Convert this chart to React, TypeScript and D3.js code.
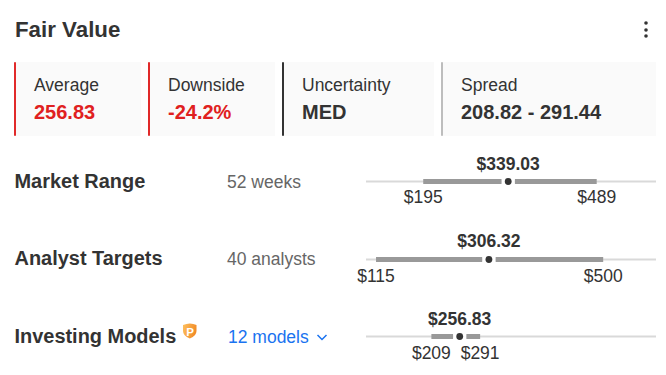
import React from "react";
import * as d3 from "d3";

const cardLabels = ["Average", "Downside", "Uncertainty", "Spread"];
const cardValues = ["256.83", "-24.2%", "MED", "208.82 - 291.44"];
const cardLeft = [14, 148, 282, 441];
const cardRight = [141, 275, 434, 656];
const cardBorder = ["#e12a2a", "#e12a2a", "#333333", "#bdbdbd"];
const cardValueColor = ["#e02020", "#e02020", "#333333", "#333333"];

const rowNames = ["Market Range", "Analyst Targets", "Investing Models"];
const rowNotes = ["52 weeks", "40 analysts", "12 models"];
const rowLow = [195, 115, 208.82];
const rowHigh = [489, 500, 291.44];
const rowMid = [339.03, 306.32, 256.83];
const rowLowLabels = ["$195", "$115", "$209"];
const rowHighLabels = ["$489", "$500", "$291"];
const rowY = [181.5, 259.5, 336.5];
const nameBase = [187.5, 264.5, 342.5];
const noteBase = [188, 265, 343];
const midBase = [170, 247, 325];
const lowBase = [203, 282, 359];

const FONT = "'Liberation Sans', Arial, sans-serif";
const DARK = "#333333";
const BLUE = "#1a73f0";

export default function App() {
  const x = d3.scaleLinear().domain([98, 589.5]).range([366, 656]);
  const gap = 6.5;
  return (
    <svg width={666} height={375} style={{ position: "absolute", left: 0, top: 0, background: "#fff" }} fontFamily={FONT}>
      <defs>
        <linearGradient id="shield" x1="0" y1="0" x2="1" y2="0.3">
          <stop offset="0" stopColor="#fdc05e" />
          <stop offset="1" stopColor="#f28c28" />
        </linearGradient>
      </defs>
      <text x={15} y={37} fontSize={22.3} fontWeight={700} fill={DARK}>Fair Value</text>
      {[23, 30, 36].map((cy) => <circle key={cy} cx={646} cy={cy} r={1.8} fill={DARK} />)}

      {cardLabels.map((label, i) => (
        <g key={label}>
          <rect x={cardLeft[i]} y={62} width={cardRight[i] - cardLeft[i]} height={74} fill="#fafafa" />
          <rect x={cardLeft[i]} y={62} width={2} height={74} rx={1} fill={cardBorder[i]} />
          <text x={cardLeft[i] + 20} y={91} fontSize={17.5} fill={DARK}>{label}</text>
          <text x={cardLeft[i] + 20} y={119} fontSize={20} fontWeight={700} fill={cardValueColor[i]}>{cardValues[i]}</text>
        </g>
      ))}

      {rowNames.map((name, i) => {
        const y = rowY[i];
        const lo = x(rowLow[i]);
        const hi = x(rowHigh[i]);
        const mid = x(rowMid[i]);
        return (
          <g key={name}>
            <text x={14.5} y={nameBase[i]} fontSize={19.95} fontWeight={700} fill={DARK}>{name}</text>
            <text x={i === 2 ? 228 : 227} y={noteBase[i]} fontSize={17.5} fill={i === 2 ? BLUE : "#666666"}>{rowNotes[i]}</text>
            <rect x={x.range()[0]} y={y - 1} width={x.range()[1] - x.range()[0]} height={2} fill="#d9d9d9" />
            <rect x={lo} y={y - 2.5} width={mid - gap - lo} height={5} fill="#999999" />
            <rect x={mid + gap} y={y - 2.5} width={hi - mid - gap} height={5} fill="#999999" />
            <rect x={mid - gap} y={y - 2.5} width={gap * 2} height={5} fill="#ffffff" />
            <circle cx={mid} cy={y} r={3.4} fill={DARK} />
            <text x={mid} y={midBase[i]} fontSize={17.5} fontWeight={700} fill={DARK} textAnchor="middle">${rowMid[i].toFixed(2)}</text>
            <text x={lo} y={lowBase[i]} fontSize={17.5} fill={DARK} textAnchor="middle">{rowLowLabels[i]}</text>
            <text x={hi} y={lowBase[i]} fontSize={17.5} fill={DARK} textAnchor="middle">{rowHighLabels[i]}</text>
          </g>
        );
      })}

      <path d="M317.5 335 L322 339.5 L326.5 335" fill="none" stroke={BLUE} strokeWidth={1.5} />
      <g>
        <path d="M183 325 Q190 322 196.5 325 L196.5 331 Q196.5 336 189.8 338.5 Q183 336 183 331 Z" fill="url(#shield)" />
        <text x={190} y={335.5} fontSize={11.5} fontWeight={700} fill="#fff" textAnchor="middle">P</text>
      </g>
    </svg>
  );
}
